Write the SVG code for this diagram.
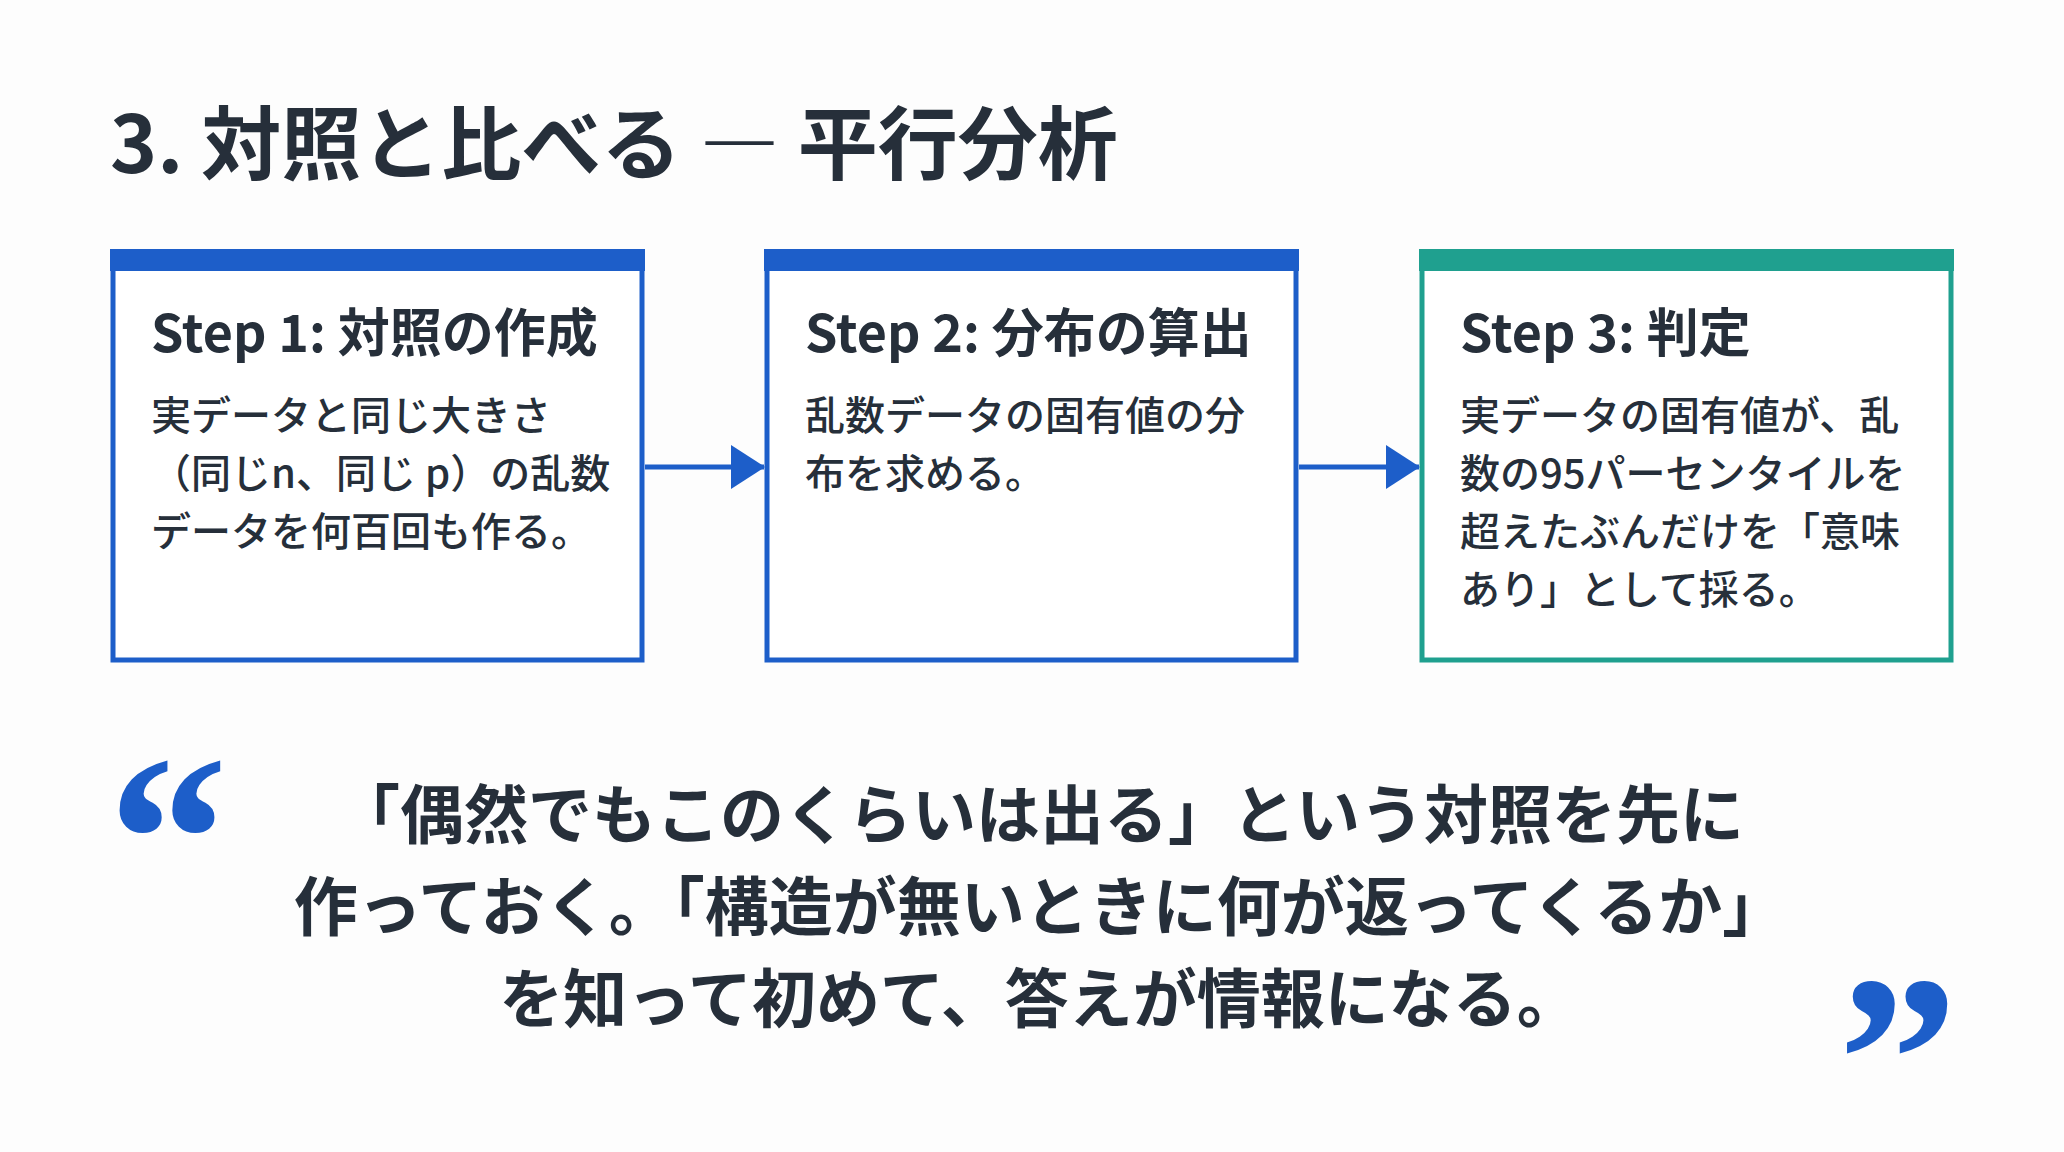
<svg xmlns="http://www.w3.org/2000/svg" width="2064" height="1152" viewBox="0 0 2064 1152">
<style>
text{font-family:"Noto Sans CJK JP","Noto Sans",sans-serif;fill:#262f3a}
.t{font-size:80px;font-weight:700}
.h{font-size:52px;font-weight:700}
.b{font-size:40px;font-weight:500}
.q{font-size:64px;font-weight:700;text-anchor:middle}
.box{fill:#fff;stroke-width:5}
.qm{font-family:"Liberation Serif",serif;font-size:240px;font-weight:700;fill:#1d5ec9}
</style>
<defs>
<marker id="ah" markerWidth="34" markerHeight="44" refX="33" refY="22" orient="auto" markerUnits="userSpaceOnUse" viewBox="0 0 34 44">
<path d="M0,0 L34,22 L0,44 Z" fill="#1d5ec9"/>
</marker>
</defs>
<rect width="2064" height="1152" fill="#fdfdfd"/>
<text class="t" x="110" y="173">3. 対照と比べる ― 平行分析</text>
<g id="step1">
<rect class="box" x="113" y="252" width="529" height="408" stroke="#1d5ec9"/>
<rect x="110" y="249" width="535" height="22" fill="#1d5ec9"/>
<text class="h" x="151" y="352">Step 1: 対照の作成</text>
<text class="b" x="151" y="430">実データと同じ大きさ</text>
<text class="b" x="151" y="488">（同じn、同じ p）の乱数</text>
<text class="b" x="151" y="546">データを何百回も作る。</text>
</g>
<g id="step2">
<rect class="box" x="767" y="252" width="529" height="408" stroke="#1d5ec9"/>
<rect x="764" y="249" width="535" height="22" fill="#1d5ec9"/>
<text class="h" x="805" y="352">Step 2: 分布の算出</text>
<text class="b" x="805" y="430">乱数データの固有値の分</text>
<text class="b" x="805" y="488">布を求める。</text>
</g>
<g id="step3">
<rect class="box" x="1422" y="252" width="529" height="408" stroke="#1fa08f"/>
<rect x="1419" y="249" width="535" height="22" fill="#1fa08f"/>
<text class="h" x="1460" y="352">Step 3: 判定</text>
<text class="b" x="1460" y="430">実データの固有値が、乱</text>
<text class="b" x="1460" y="488">数の95パーセンタイルを</text>
<text class="b" x="1460" y="546">超えたぶんだけを「意味</text>
<text class="b" x="1460" y="604">あり」として採る。</text>
</g>
<g id="connectors" stroke="#1d5ec9" stroke-width="5" fill="none">
<line x1="645" y1="467" x2="764" y2="467" marker-end="url(#ah)"/>
<line x1="1299" y1="467" x2="1419" y2="467" marker-end="url(#ah)"/>
</g>
<g id="quote">
<text class="qm" x="108" y="920">“</text>
<text class="qm" x="1838" y="1140">”</text>
<text class="q" x="1040" y="838">「偶然でもこのくらいは出る」という対照を先に</text>
<text class="q" x="1040" y="930">作っておく。「構造が無いときに何が返ってくるか」</text>
<text class="q" x="1040" y="1022">を知って初めて、答えが情報になる。</text>
</g>
</svg>
